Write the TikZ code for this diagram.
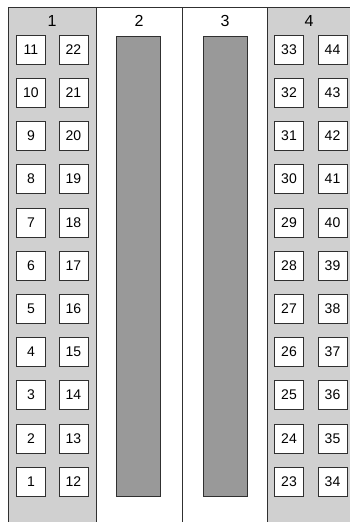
\documentclass[tikz,border=0pt]{standalone}
\usepackage{fontspec}
\setmainfont{Liberation Sans}
\usepackage{tikz}
\usetikzlibrary{positioning}
\definecolor{panel}{HTML}{D0D0D0}
\definecolor{bar}{HTML}{999999}
\definecolor{edge}{HTML}{303030}

\begin{document}
\begin{tikzpicture}[
  x=1pt, y=-1pt,
  every node/.style={font=\fontsize{14}{16}\selectfont},
  pin/.style={rectangle, draw=edge, fill=white, minimum width=29pt, minimum height=29pt, inner sep=0pt},
  slotbar/.style={rectangle, draw=edge, fill=bar, minimum width=44pt, minimum height=460pt, inner sep=0pt},
  head/.style={font=\fontsize{16}{18}\selectfont, inner sep=0pt},
  frame/.style={draw=edge, line width=1pt},
]
\useasboundingbox (0,0) rectangle (350,522);
% side panels
\fill[panel] (8,7) rectangle (96,522);
\fill[panel] (267,7) rectangle (350,522);
\draw[frame] (8,522) -- (8,7) -- (350,7);
\draw[frame] (96,7) -- (96,522);
\draw[frame] (182,7) -- (182,522);
\draw[frame] (267,7) -- (267,522);
% column numbers
\node[head] (h1) at (52,21)  {1};
\node[head] (h2) at (139,21) {2};
\node[head] (h3) at (225,21) {3};
\node[head] (h4) at (309,21) {4};
% middle bars
\node[slotbar] (bar2) at (138,266) {};
\node[slotbar] (bar3) at (225,266) {};
% contacts
\foreach \i in {0,...,10} {
  \pgfmathtruncatemacro{\a}{11-\i}
  \pgfmathtruncatemacro{\b}{22-\i}
  \pgfmathtruncatemacro{\c}{33-\i}
  \pgfmathtruncatemacro{\d}{44-\i}
  \node[pin] (p\a) at (31,49.5+43.2*\i)    {\a};
  \node[pin] (p\b) at (73.5,49.5+43.2*\i)  {\b};
  \node[pin] (p\c) at (289,49.5+43.2*\i)   {\c};
  \node[pin] (p\d) at (332.5,49.5+43.2*\i) {\d};
}
\end{tikzpicture}
\end{document}
